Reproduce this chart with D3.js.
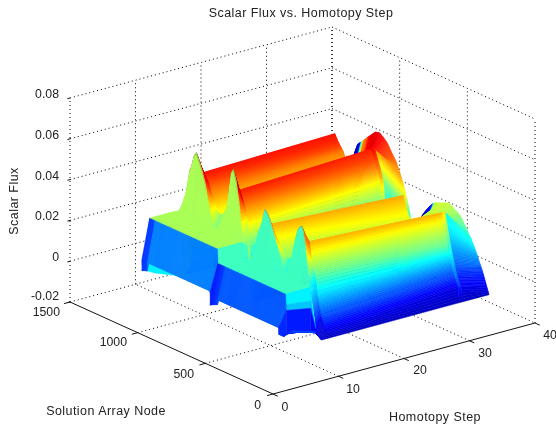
<!DOCTYPE html>
<html>
<head>
<meta charset="utf-8">
<script src="https://cdn.jsdelivr.net/npm/d3@7"></script>
<style>
body { margin: 0; background: #fff; }
svg { filter: blur(0.3px); }
text { font-family: "Liberation Sans", Arial, sans-serif; font-size: 12.3px; fill: #222; }
text.wide { font-size: 12.5px; letter-spacing: 0.45px; }
</style>
</head>
<body>
<svg id="chart" width="556" height="427"></svg>
<script>
var steps = [1.7, 2.9, 6.6, 7.4, 8.3, 28.5, 29, 33];
var nodes = [0,15,41,42,44,48,62,75,90,105,120,133,144,160,174,200,211,230,255,270,300,330,360,384,400,417,440,469,490,492,521,545,546,547,552,556,570,590,610,630,650,665,690,720,750,780,810,840,860,880,900,924,940,950,960,972,1001,1010,1012,1031,1046,1050,1052];

var fluxWall    = [.0066,.0066,.0066,.0098,.0098,.0098,.0098,.0098,.0098,.0098,.0098,.0098,.0098,.0098,.0098,.0098,.0098,.0098,.0098,.0098,.0098,.0098,.0098,.0098,.0098,.0098,.0098,.0098,.0097,.0075,.0066,.0057,.0057,.012,.012,.0125,.0125,.0125,.0125,.0125,.0125,.0125,.0125,.0125,.0125,.0125,.0125,.0125,.0125,.0125,.0125,.0125,.0125,.0125,.0125,.0125,.0125,.0122,.0083,.008,.0075,.0073,.0126];
var fluxPlateau = [.0085,.0075,.0056,.0172,.02,.025,.025,.025,.025,.025,.025,.025,.025,.025,.025,.025,.025,.025,.025,.025,.025,.025,.025,.025,.025,.025,.025,.025,.025,.025,.025,.025,.025,.025,.032,.032,.032,.032,.032,.032,.032,.032,.032,.032,.032,.032,.032,.032,.032,.032,.032,.032,.032,.032,.032,.032,.032,.032,.032,.032,.032,.032,.032];
var fluxFoot    = [.0041,.0042,.0043,.015,.0185,.025,.025,.025,.025,.025,.025,.025,.025,.025,.025,.025,.025,.025,.025,.025,.025,.025,.025,.025,.025,.025,.025,.025,.025,.025,.025,.025,.025,.025,.032,.032,.032,.032,.032,.032,.032,.032,.032,.032,.032,.032,.032,.032,.032,.032,.032,.032,.032,.032,.032,.032,.032,.032,.032,.032,.032,.032,.032];
var fluxSpike   = [0,.001,.0035,.0038,.0045,.006,.011,.016,.023,.033,.043,.049,.0515,.0505,.0487,.041,.036,.03,.024,.024,.031,.037,.043,.048,.05,.0515,.044,.0383,.029,.028,.021,.022,.023,.024,.03,.03,.03,.036,.05,.059,.064,.062,.046,.04,.0325,.029,.035,.044,.051,.056,.06,.064,.062,.059,.056,.054,.041,.04,.039,.034,.031,.031,.031];
var fluxRidge   = [0,.0026,.0085,.0088,.0093,.0097,.0145,.0197,.0278,.0323,.037,.0435,.0425,.041,.04,.037,.036,.034,.032,.031,.031,.0325,.036,.038,.041,.0435,.036,.02,.012,.011,.004,.002,.002,.002,.004,.01,.028,.039,.046,.05,.0524,.0524,.049,.044,.04,.037,.038,.043,.046,.05,.052,.0534,.05,.045,.04,.03,.01,.006,.005,.002,0,0,0];
var fluxSeam    = [0,.007,.0115,.0118,.0122,.0127,.0165,.02,.025,.03,.035,.04,.039,.037,.036,.035,.034,.032,.03,.03,.03,.029,.03,.032,.036,.04,.034,.012,.004,.0035,.001,0,0,0,.004,.012,.03,.042,.047,.051,.055,.055,.05,.044,.04,.038,.04,.044,.048,.05,.052,.055,.045,.02,.003,0,0,0,0,0,0,0,0];
var fluxDrop    = [0,.007,.0115,.0118,.0122,.0127,.0165,.02,.025,.03,.035,.04,.039,.037,.036,.035,.034,.032,.03,.03,.03,.029,.028,.02,.006,.002,0,0,0,0,0,0,0,0,.004,.012,.03,.042,.047,.051,.055,.055,.05,.044,.04,.038,.034,.02,.005,0,0,0,0,0,0,0,0,0,0,0,0,0,0];
var fluxEnd     = [0,.003,.0085,.0087,.009,.01,.0122,.0145,.017,.0195,.0215,.0235,.0245,.0265,.028,.031,.032,.033,.034,.035,.0358,.035,.034,.0335,.033,.032,.03,.027,.0245,.0243,.017,.008,.0075,.007,.007,.009,.017,.024,.029,.034,.038,.041,.045,.048,.0515,.0535,.055,.0545,.053,.0515,.05,.048,.047,.046,.0455,.0445,.038,.037,.0365,.033,.031,.03,.03];
var surface = [fluxWall, fluxPlateau, fluxFoot, fluxSpike, fluxRidge, fluxSeam, fluxDrop, fluxEnd];

// colour of the last stretch, it does not follow the height there
var toneEnd = [0,.003,.0065,.0068,.007,.0075,.011,.013,.016,.019,.021,.023,.024,.026,.027,.029,.03,.031,.032,.033,.034,.034,.034,.034,.034,.004,.002,0,0,0,0,0,0,0,.004,.012,.02,.03,.036,.04,.044,.045,.048,.05,.052,.054,.056,.056,.056,.055,.048,.046,.02,.002,0,0,0,0,0,0,0,0,0];

// sliver under the left wall
var sliverNodes = [1010, 950, 805];
var sliverFlux = [.0085, .0092, .0125];
var sliverTop = [.0125, .0125, .0125];

var fluxTicks = [-0.02, 0, 0.02, 0.04, 0.06, 0.08];
var stepTicks = [0, 10, 20, 30, 40];
var nodeTicks = [0, 500, 1000, 1500];

var svg = d3.select("#chart");

// projection of the box, orthographic so each axis is just a linear offset
var stepPx = d3.scaleLinear().domain([0, 40]).range([0, 262]);
var stepPy = d3.scaleLinear().domain([0, 40]).range([0, -71]);
var nodePx = d3.scaleLinear().domain([0, 1500]).range([0, -203]);
var nodePy = d3.scaleLinear().domain([0, 1500]).range([0, -92]);
var fluxPy = d3.scaleLinear().domain([-0.02, 0.08]).range([0, -204]);

function project(step, node, flux) {
    return [273 + stepPx(step) + nodePx(node), 394 + stepPy(step) + nodePy(node) + fluxPy(flux)];
}

// jet colormap over the flux range
var cMin = -0.0045, cMax = 0.063;
var jet = d3.scaleLinear()
    .domain([0, .125, .375, .625, .875, 1].map(function(t) { return cMin + t * (cMax - cMin); }))
    .range(["#000080", "#0000ff", "#00ffff", "#ffff00", "#ff0000", "#800000"])
    .clamp(true);

// ----- GRID -----
var grid = svg.append("g").attr("fill", "none").attr("stroke", "#000").attr("stroke-dasharray", "1,3");

function gridLine(a, b) {
    grid.append("line")
        .attr("x1", a[0]).attr("y1", a[1])
        .attr("x2", b[0]).attr("y2", b[1]);
}

fluxTicks.forEach(function(f) {
    gridLine(project(0, 1500, f), project(40, 1500, f));
    gridLine(project(40, 1500, f), project(40, 0, f));
});
stepTicks.forEach(function(s) {
    gridLine(project(s, 1500, -0.02), project(s, 1500, 0.08));
    if (s > 0 && s < 40) gridLine(project(s, 0, -0.02), project(s, 1500, -0.02));
});
nodeTicks.forEach(function(n) {
    gridLine(project(40, n, -0.02), project(40, n, 0.08));
    if (n > 0 && n < 1500) gridLine(project(0, n, -0.02), project(40, n, -0.02));
});

// ----- AXES -----
var axes = svg.append("g").attr("stroke", "#111").attr("fill", "none");

function axisLine(a, b) {
    axes.append("line")
        .attr("x1", a[0]).attr("y1", a[1])
        .attr("x2", b[0]).attr("y2", b[1]);
}

axisLine(project(0, 0, -0.02), project(0, 1500, -0.02));
axisLine(project(0, 0, -0.02), project(40, 0, -0.02));
fluxTicks.forEach(function(f) {
    axisLine(project(0, 1500, f), project(-0.4, 1500, f));
});
stepTicks.forEach(function(s) {
    axisLine(project(s, 0, -0.02), project(s, -35, -0.02));
});
nodeTicks.forEach(function(n) {
    axisLine(project(0, n, -0.02), project(-0.9, n, -0.02));
});

// ----- SURFACE -----
// painted far to near. Colour comes from the low step column of each cell,
// rows further apart than a few nodes get smooth shading between them
var cells = svg.append("g");

function polygon(pts, colour) {
    cells.append("path")
        .attr("d", "M" + pts.join("L") + "Z")
        .attr("fill", colour)
        .attr("stroke", colour)
        .attr("stroke-width", 0.5);
}

var sliver = sliverNodes.map(function(n, k) { return project(steps[0], n, sliverFlux[k]); })
    .concat(sliverNodes.map(function(n, k) { return project(steps[0], n, sliverTop[k]); }).reverse());
polygon(sliver, jet(.02));

for (var j = nodes.length - 2; j >= 0; j--) {
    var gap = nodes[j + 1] - nodes[j];
    var parts = gap <= 5 ? 1 : Math.min(8, Math.ceil(gap / 3));
    for (var p = parts - 1; p >= 0; p--) {
        var a = p / parts, b = (p + 1) / parts;
        for (var i = steps.length - 2; i >= 0; i--) {
            var left = surface[i], right = surface[i + 1];
            var tone = i == steps.length - 2 ? toneEnd : left;
            var n0 = nodes[j] + a * gap, n1 = nodes[j] + b * gap;
            polygon([
                project(steps[i], n0, left[j] + a * (left[j + 1] - left[j])),
                project(steps[i + 1], n0, right[j] + a * (right[j + 1] - right[j])),
                project(steps[i + 1], n1, right[j] + b * (right[j + 1] - right[j])),
                project(steps[i], n1, left[j] + b * (left[j + 1] - left[j]))
            ], jet(tone[j] + (gap <= 5 ? 0 : a * (tone[j + 1] - tone[j]))));
        }
    }
}

// ----- TEXT -----
function label(x, y, str, anchor) {
    return svg.append("text")
        .attr("x", x).attr("y", y)
        .attr("dy", "0.35em")
        .attr("text-anchor", anchor)
        .text(str);
}

var fluxLabelY = [296, 257, 216, 176, 135, 94];
fluxTicks.forEach(function(f, k) {
    label(59, fluxLabelY[k], f === 0 ? "0" : f.toFixed(2), "end");
});

var nodeLabelPos = [[261, 405], [194, 374], [127, 342], [60, 312]];
nodeTicks.forEach(function(n, k) {
    label(nodeLabelPos[k][0], nodeLabelPos[k][1], n, "end");
});

var stepLabelPos = [[285, 407], [353, 389], [420, 370], [485, 353], [550, 335]];
stepTicks.forEach(function(s, k) {
    label(stepLabelPos[k][0], stepLabelPos[k][1], s, "middle");
});

label(301, 13, "Scalar Flux vs. Homotopy Step", "middle").attr("class", "wide");
label(106, 411, "Solution Array Node", "middle").attr("class", "wide");
label(435, 417, "Homotopy Step", "middle").attr("class", "wide");
label(0, 0, "Scalar Flux", "middle").attr("class", "wide").attr("transform", "translate(14,201) rotate(-90)");
</script>
</body>
</html>
